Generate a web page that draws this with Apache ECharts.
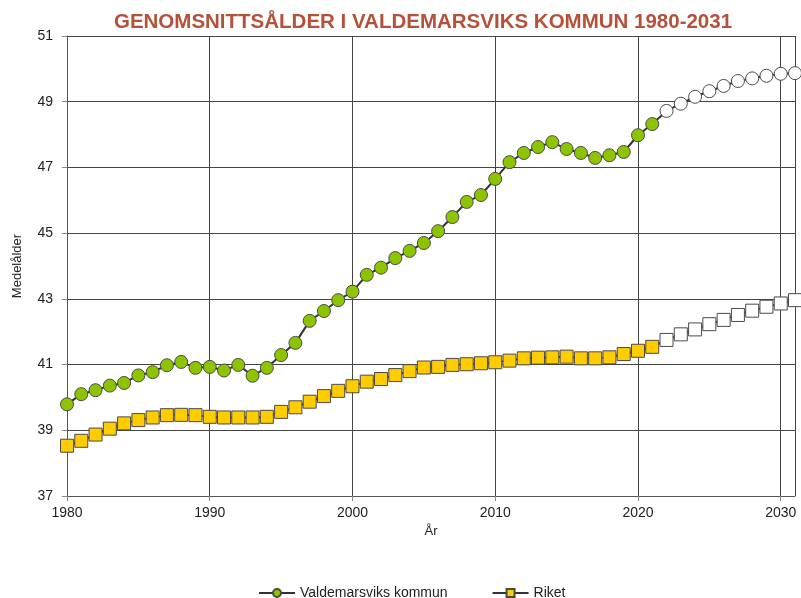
<!DOCTYPE html>
<html>
<head>
<meta charset="utf-8">
<script src="https://cdn.jsdelivr.net/npm/echarts@6/dist/echarts.min.js"></script>
<style>
  html, body { margin: 0; padding: 0; background: #fff; }
  #chart { width: 801px; height: 598px; }
</style>
</head>
<body>
<div id="chart"></div>
<script>
// år 1980-2031, prognos från 2022
const years = [];
for (let y = 1980; y <= 2031; y++) years.push(y);
const prognosStart = 2022;

const valdemarsvik = [
  39.79, 40.10, 40.22, 40.36, 40.44, 40.67, 40.77, 40.98, 41.08, 40.90,
  40.93, 40.82, 40.99, 40.66, 40.90, 41.29, 41.66, 42.33, 42.63, 42.96,
  43.22, 43.73, 43.95, 44.24, 44.46, 44.70, 45.06, 45.49, 45.95, 46.16,
  46.65, 47.16, 47.44, 47.62, 47.77, 47.56, 47.44, 47.29, 47.37, 47.47,
  47.98, 48.32, 48.72, 48.94, 49.15, 49.32, 49.48, 49.63, 49.71, 49.79,
  49.85, 49.87
];
const riket = [
  38.53, 38.68, 38.87, 39.05, 39.21, 39.31, 39.39, 39.46, 39.47, 39.46,
  39.41, 39.39, 39.39, 39.39, 39.41, 39.56, 39.70, 39.87, 40.04, 40.20,
  40.34, 40.48, 40.56, 40.68, 40.80, 40.91, 40.93, 40.99, 41.01, 41.04,
  41.07, 41.12, 41.19, 41.21, 41.22, 41.24, 41.19, 41.19, 41.22, 41.32,
  41.42, 41.54, 41.75, 41.92, 42.07, 42.23, 42.36, 42.51, 42.64, 42.76,
  42.86, 42.96
];

function buildData(values) {
  return values.map((v, i) => {
    const item = { value: [years[i], v] };
    if (years[i] >= prognosStart) item.itemStyle = { color: "#fff" };
    return item;
  });
}

const font = "Arial, 'Liberation Sans', sans-serif";
const chart = echarts.init(document.getElementById("chart"));
const option = {
  animation: false,
  title: {
    text: "GENOMSNITTSÅLDER I VALDEMARSVIKS KOMMUN 1980-2031",
    left: 418,
    textAlign: "center",
    top: 7,
    textStyle: {
      fontFamily: "'Liberation Sans Narrow', 'Arial Narrow', " + font,
      fontWeight: "bold",
      fontSize: 20.5,
      color: "#b5513a",
    },
  },
  legend: {
    top: 581,
    left: 253,
    itemGap: 44,
    itemWidth: 36,
    itemHeight: 10,
    textStyle: { fontFamily: font, fontSize: 14, color: "#222" },
    data: ["Valdemarsviks kommun", "Riket"],
  },
  grid: { left: 67, right: 6, top: 36, bottom: 102 },
  xAxis: {
    type: "value",
    min: 1980,
    max: 2031,
    interval: 10,
    name: "År",
    nameLocation: "middle",
    nameGap: 26,
    nameTextStyle: { fontFamily: font, fontSize: 13, color: "#222" },
    axisLine: { show: true, lineStyle: { color: "#555", width: 1 } },
    axisTick: { show: true, length: 5, lineStyle: { color: "#888" } },
    axisLabel: {
      fontFamily: font, fontSize: 14, color: "#222", margin: 10, showMaxLabel: false,
      formatter: (v) => String(v),
    },
    splitLine: { show: true, lineStyle: { color: "#444", width: 1 } },
  },
  yAxis: {
    type: "value",
    min: 37,
    max: 51,
    interval: 2,
    name: "Medelålder",
    nameLocation: "middle",
    nameGap: 43,
    nameRotate: 90,
    nameTextStyle: { fontFamily: font, fontSize: 13, color: "#222" },
    axisLine: { show: true, lineStyle: { color: "#555", width: 1 } },
    axisTick: { show: true, length: 5, lineStyle: { color: "#888" } },
    axisLabel: { fontFamily: font, fontSize: 14, color: "#222", margin: 14 },
    splitLine: { show: true, lineStyle: { color: "#444", width: 1 } },
  },
  series: [
    {
      name: "Valdemarsviks kommun",
      type: "line",
      symbol: "circle",
      symbolSize: 13,
      showAllSymbol: true,
      lineStyle: { color: "#333", width: 2 },
      itemStyle: { color: "#8cc400", borderColor: "#4a4a4a", borderWidth: 1 },
      data: buildData(valdemarsvik),
      z: 3,
    },
    {
      name: "Riket",
      type: "line",
      symbol: "rect",
      symbolSize: 13,
      showAllSymbol: true,
      lineStyle: { color: "#333", width: 2 },
      itemStyle: { color: "#ffcc00", borderColor: "#4a4a4a", borderWidth: 1 },
      data: buildData(riket),
      z: 3,
    },
  ],
};
chart.setOption(option);
</script>
</body>
</html>
